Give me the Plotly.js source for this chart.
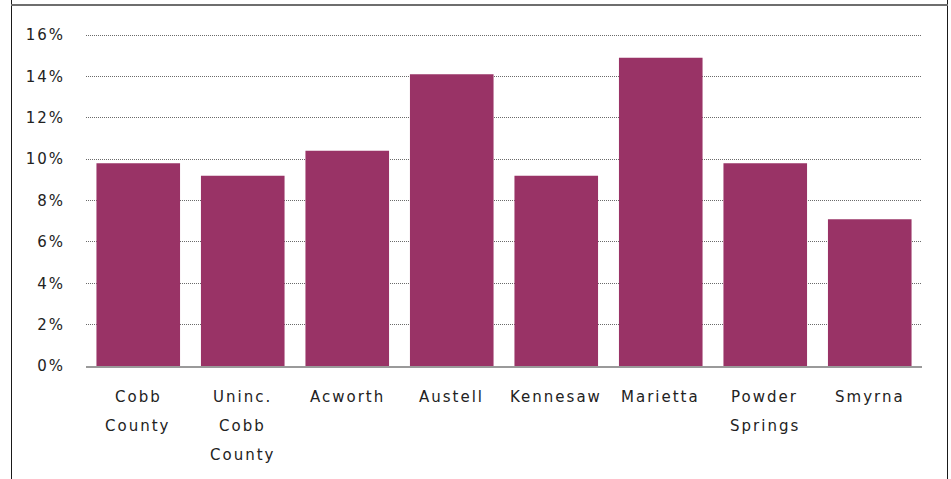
<!DOCTYPE html>
<html>
<head>
<meta charset="utf-8">
<script src="https://cdn.plot.ly/plotly-3.0.1.min.js"></script>
<style>
  html, body { margin: 0; padding: 0; background: #fff; }
  #wrap { position: relative; width: 951px; height: 479px; overflow: hidden; }
  #chart { position: absolute; left: 0; top: 0; width: 951px; height: 479px; }
  .vline { position: absolute; top: 0; width: 1px; height: 479px; background: #1a1a1a; }
  .hline { position: absolute; left: 11px; width: 937px; height: 2px; top: 4px; background: #6e6e6e; }
  #chart .annotation-text, #chart .ytick text { letter-spacing: 2px; }
</style>
</head>
<body>
<div id="wrap">
  <div id="chart"></div>
  <div class="vline" style="left:11px"></div>
  <div class="vline" style="left:947px"></div>
  <div class="hline"></div>
</div>
<script>
// Data
const categories = ["Cobb County", "Uninc. Cobb County", "Acworth", "Austell", "Kennesaw", "Marietta", "Powder Springs", "Smyrna"];
const labelLines = [["Cobb", "County"], ["Uninc.", "Cobb", "County"], ["Acworth"], ["Austell"], ["Kennesaw"], ["Marietta"], ["Powder", "Springs"], ["Smyrna"]];
const values = [9.8, 9.2, 10.4, 14.1, 9.2, 14.9, 9.8, 7.1];
const yTickVals = [0, 2, 4, 6, 8, 10, 12, 14, 16];
const yTickText = ["0%", "2%", "4%", "6%", "8%", "10%", "12%", "14%", "16%"];

const fontFamily = "'DejaVu Sans', 'Liberation Sans', sans-serif";

const annotations = [];
categories.forEach((c, i) => {
  labelLines[i].forEach((line, j) => {
    annotations.push({
      x: c, y: 0, xref: "x", yref: "y",
      text: line, showarrow: false,
      xanchor: "center", yanchor: "middle",
      yshift: -31 - 29 * j,
      font: { family: fontFamily, size: 15, color: "#222" }
    });
  });
});

const trace = {
  type: "bar",
  x: categories,
  y: values,
  marker: { color: "#993366", line: { width: 0 } },
  hoverinfo: "skip"
};

const layout = {
  width: 951, height: 479,
  margin: { l: 86, r: 29, t: 34, b: 113 },
  paper_bgcolor: "#fff", plot_bgcolor: "#fff",
  showlegend: false,
  bargap: 0.2,
  xaxis: {
    type: "category",
    showticklabels: false,
    showgrid: false,
    zeroline: false,
    showline: true, linecolor: "#9a9a9a", linewidth: 2,
    ticks: ""
  },
  yaxis: {
    range: [0, 16.05],
    tickvals: yTickVals, ticktext: yTickText,
    showgrid: true, gridcolor: "#6a6a6a", griddash: "1px,1px", gridwidth: 1,
    zeroline: false, showline: false,
    ticks: "", ticklabelstandoff: 20,
    tickfont: { family: fontFamily, size: 15, color: "#222" }
  },
  annotations: annotations
};

Plotly.newPlot("chart", [trace], layout, { displayModeBar: false, staticPlot: true });
</script>
</body>
</html>
